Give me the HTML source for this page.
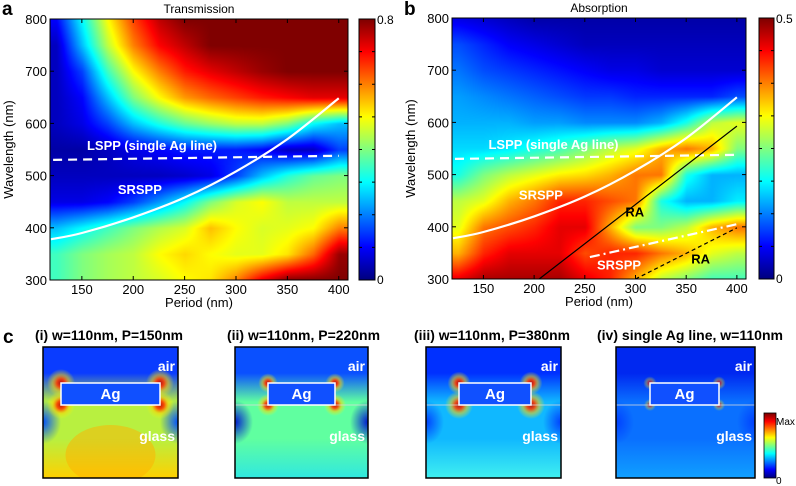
<!DOCTYPE html>
<html><head><meta charset="utf-8"><style>
body{margin:0;background:#fff;width:796px;height:486px;overflow:hidden;position:relative;font-family:"Liberation Sans",Arial,sans-serif}
canvas{position:absolute}
svg{position:absolute;left:0;top:0}
</style></head><body>
<canvas id="hmA" width="298" height="261" style="left:50px;top:19px"></canvas>
<canvas id="hmB" width="294" height="261" style="left:452px;top:18px"></canvas>
<canvas id="cbA" width="16" height="261" style="left:359px;top:19px"></canvas>
<canvas id="cbB" width="15" height="261" style="left:759px;top:18px"></canvas>
<canvas id="cbC" width="12" height="65" style="left:764px;top:413px"></canvas>
<svg id="ov" width="796" height="486"></svg>
<script>
const periods=[125,150,175,200,225,250,275,300,325,350,375,400];
const wavelengths=[800,750,700,650,600,550,500,450,400,350,300];
const transmission=[
[0.1,0.3,0.5,0.65,0.75,0.8,0.8,0.8,0.8,0.8,0.8,0.8],
[0.05,0.25,0.45,0.6,0.7,0.75,0.8,0.8,0.8,0.8,0.8,0.8],
[0.05,0.15,0.35,0.5,0.6,0.68,0.72,0.75,0.78,0.8,0.8,0.8],
[0.05,0.1,0.25,0.4,0.5,0.58,0.62,0.65,0.68,0.7,0.72,0.72],
[0.05,0.08,0.15,0.25,0.32,0.38,0.42,0.45,0.45,0.4,0.3,0.25],
[0.03,0.03,0.05,0.08,0.1,0.12,0.12,0.12,0.1,0.05,0.05,0.15],
[0.05,0.05,0.05,0.05,0.05,0.06,0.08,0.15,0.25,0.33,0.38,0.4],
[0.08,0.08,0.1,0.15,0.22,0.3,0.4,0.47,0.5,0.45,0.45,0.45],
[0.25,0.3,0.35,0.4,0.44,0.47,0.55,0.5,0.47,0.48,0.5,0.6],
[0.35,0.4,0.43,0.45,0.5,0.53,0.5,0.48,0.48,0.52,0.62,0.78],
[0.35,0.4,0.43,0.45,0.47,0.5,0.52,0.6,0.72,0.8,0.8,0.8]];
const absorption=[
[0.05,0.04,0.03,0.02,0.02,0.02,0.02,0.02,0.02,0.02,0.02,0.02],
[0.1,0.08,0.06,0.05,0.04,0.03,0.03,0.03,0.03,0.03,0.03,0.03],
[0.12,0.1,0.09,0.08,0.07,0.06,0.05,0.05,0.04,0.04,0.04,0.04],
[0.14,0.13,0.12,0.11,0.1,0.09,0.09,0.08,0.08,0.08,0.08,0.1],
[0.15,0.15,0.15,0.14,0.14,0.13,0.13,0.13,0.15,0.2,0.28,0.3],
[0.17,0.17,0.18,0.2,0.22,0.25,0.28,0.3,0.35,0.38,0.35,0.25],
[0.2,0.25,0.28,0.3,0.32,0.33,0.35,0.38,0.38,0.2,0.15,0.15],
[0.28,0.3,0.35,0.38,0.42,0.42,0.4,0.38,0.2,0.15,0.15,0.18],
[0.3,0.38,0.4,0.42,0.45,0.45,0.35,0.25,0.25,0.28,0.35,0.38],
[0.35,0.42,0.45,0.45,0.45,0.4,0.42,0.42,0.38,0.35,0.3,0.28],
[0.45,0.48,0.48,0.48,0.48,0.45,0.42,0.35,0.28,0.25,0.22,0.22]];
const xTicks=[150,200,250,300,350,400];
const yTicks=[300,400,500,600,700,800];
const srsppP=[120,150,200,250,300,350,400];
const srsppW=[378,390,420,458,508,570,648];
const lsppP=[122,400];
const lsppW=[530,538];
const raP=[205,400], raW=[300,593];
const ra2P=[300,400], ra2W=[300,398];
const srspp2P=[255,400], srspp2W=[342,405];

function jet(t){t=Math.max(0,Math.min(1,t));const c=v=>Math.round(255*Math.max(0,Math.min(1,v)));
return [c(1.5-Math.abs(4*t-3)),c(1.5-Math.abs(4*t-2)),c(1.5-Math.abs(4*t-1))];}
function makeAxes(x0,x1,y0,y1){return{x:p=>x0+(p-119)/(409-119)*(x1-x0),y:w=>y1-(w-300)/500*(y1-y0)};}
const axA=makeAxes(50,348,19,280), axB=makeAxes(452,746,18,279);
function drawHeat(id,grid,vmax,ax,left,top){
 const cv=document.getElementById(id),ctx=cv.getContext('2d'),W=cv.width,H=cv.height;
 const img=ctx.createImageData(W,H);
 for(let j=0;j<H;j++){const w=800-(j+top-ax.y(800))/(ax.y(300)-ax.y(800))*500;
  let fr=(800-w)/50;fr=Math.max(0,Math.min(wavelengths.length-1.001,fr));const r0=Math.floor(fr),ry=fr-r0;
  for(let i=0;i<W;i++){const p=119+(i+left-ax.x(119))/(ax.x(409)-ax.x(119))*290;
   let fc=(p-125)/25;fc=Math.max(0,Math.min(periods.length-1.001,fc));const c0=Math.floor(fc),cx=fc-c0;
   const v=(grid[r0][c0]*(1-cx)+grid[r0][c0+1]*cx)*(1-ry)+(grid[r0+1][c0]*(1-cx)+grid[r0+1][c0+1]*cx)*ry;
   const col=jet(v/vmax),k=(j*W+i)*4;img.data[k]=col[0];img.data[k+1]=col[1];img.data[k+2]=col[2];img.data[k+3]=255;}}
 ctx.putImageData(img,0,0);}
drawHeat('hmA',transmission,0.8,axA,50,19);
drawHeat('hmB',absorption,0.5,axB,452,18);
function drawCb(id){const cv=document.getElementById(id),ctx=cv.getContext('2d');
 for(let j=0;j<cv.height;j++){const c=jet(1-j/(cv.height-1));ctx.fillStyle=`rgb(${c})`;ctx.fillRect(0,j,cv.width,1);}}
['cbA','cbB','cbC'].forEach(drawCb);

const NS='http://www.w3.org/2000/svg',ov=document.getElementById('ov');
function el(tag,attrs,parent){const e=document.createElementNS(NS,tag);for(const k in attrs)e.setAttribute(k,attrs[k]);(parent||ov).appendChild(e);return e;}
function txt(s,attrs,parent){const e=el('text',attrs,parent);e.textContent=s;return e;}
function pathFrom(P,W,ax){return P.map((p,i)=>(i?'L':'M')+ax.x(p).toFixed(1)+','+ax.y(W[i]).toFixed(1)).join('');}
function smoothPath(P,W,ax){
 const pts=P.map((p,i)=>[ax.x(p),ax.y(W[i])]);let d='M'+pts[0][0].toFixed(1)+','+pts[0][1].toFixed(1);
 for(let i=0;i<pts.length-1;i++){const p0=pts[Math.max(0,i-1)],p1=pts[i],p2=pts[i+1],p3=pts[Math.min(pts.length-1,i+2)];
  const c1=[p1[0]+(p2[0]-p0[0])/6,p1[1]+(p2[1]-p0[1])/6],c2=[p2[0]-(p3[0]-p1[0])/6,p2[1]-(p3[1]-p1[1])/6];
  d+=`C${c1[0].toFixed(1)},${c1[1].toFixed(1)} ${c2[0].toFixed(1)},${c2[1].toFixed(1)} ${p2[0].toFixed(1)},${p2[1].toFixed(1)}`;}
 return d;}

function panel(ax,x0,x1,y0,y1,cbx,cbw,cbMax,title,letter,lx,isB){
 const g=el('g',{});
 
 
 el('rect',{x:x0,y:y0,width:x1-x0,height:y1-y0,fill:'none',stroke:'#000','stroke-width':1},g);
 el('rect',{x:cbx,y:y0,width:cbw,height:y1-y0,fill:'none',stroke:'#000','stroke-width':1},g);
 for(let k=1;k<8;k++){const yy=y0+(y1-y0)*k/8;el('line',{x1:cbx+cbw-3,x2:cbx+cbw,y1:yy,y2:yy,stroke:'#000'},g);el('line',{x1:cbx,x2:cbx+3,y1:yy,y2:yy,stroke:'#000'},g);}
 txt(cbMax,{x:cbx+cbw+2,y:y0+5,'font-size':12,fill:'#000'},g);
 txt('0',{x:cbx+cbw+2,y:y1+4,'font-size':12,fill:'#000'},g);
 xTicks.forEach(t=>{const X=ax.x(t);el('line',{x1:X,x2:X,y1:y1,y2:y1-4,stroke:'#000'},g);el('line',{x1:X,x2:X,y1:y0,y2:y0+4,stroke:'#000'},g);
  const e=txt(String(t),{x:X,y:y1+14,'font-size':13,'text-anchor':'middle'},g);});
 yTicks.forEach(t=>{const Y=ax.y(t);el('line',{x1:x0,x2:x0+4,y1:Y,y2:Y,stroke:'#000'},g);el('line',{x1:x1,x2:x1-4,y1:Y,y2:Y,stroke:'#000'},g);
  const e=txt(String(t),{x:x0-3,y:Y+5,'font-size':13,'text-anchor':'end'},g);});
 const xt=txt('Period (nm)',{x:(x0+x1)/2,y:y1+27,'font-size':13,'text-anchor':'middle'},g);
 const yt=txt('Wavelength (nm)',{x:0,y:0,'font-size':13,'text-anchor':'middle',transform:`translate(${x0-37},${(y0+y1)/2}) rotate(-90)`},g);
 const tt=txt(title,{x:(x0+x1)/2,y:y0-6,'font-size':12,'text-anchor':'middle'},g);
 const lt=txt(letter,{x:lx,y:15,'font-size':19,'font-weight':'bold'},g);
 const s=el('path',{d:smoothPath(srsppP,srsppW,ax),fill:'none',stroke:'#fff','stroke-width':2.2},g);
 
 const l=el('path',{d:pathFrom(lsppP,lsppW,ax),fill:'none',stroke:'#fff','stroke-width':2.2,'stroke-dasharray':'9,6'},g);
 
 txt('LSPP (single Ag line)',{x:ax.x(155),y:ax.y(549),'font-size':13,'font-weight':'bold',fill:'#fff'},g);
 txt('SRSPP',{x:ax.x(185),y:ax.y(isB?452:465),'font-size':13,'font-weight':'bold',fill:'#fff'},g);
 if(isB){
  const r=el('path',{d:pathFrom(raP,raW,ax),stroke:'#000','stroke-width':1.2,fill:'none'},g);
  const r2=el('path',{d:pathFrom(ra2P,ra2W,ax),stroke:'#000','stroke-width':1.2,fill:'none','stroke-dasharray':'4,3'},g);
  const s2=el('path',{d:pathFrom(srspp2P,srspp2W,ax),stroke:'#fff','stroke-width':2.2,fill:'none','stroke-dasharray':'10,4,2,4'},g);
  txt('RA',{x:ax.x(290),y:ax.y(420),'font-size':13,'font-weight':'bold'},g);
  txt('RA',{x:ax.x(355),y:ax.y(330),'font-size':13,'font-weight':'bold'},g);
  txt('SRSPP',{x:ax.x(262),y:ax.y(318),'font-size':13,'font-weight':'bold',fill:'#fff'},g);
 }
}
panel(axA,50,348,19,280,359,16,'0.8','Transmission','a',2,false);
panel(axB,452,746,18,279,759,15,'0.5','Absorption','b',404,true);

// panel c field maps
const defs=el('defs',{});
const cPanels=[
 {x:43,w:135,ag:[61,160],title:'(i) w=110nm, P=150nm',tx:35,tl:148,top:'#0a3cff',mid:'#b8f040',bot:'#ffd000',side:'#0050ff',spot:0.9,line:false},
 {x:235,w:133,ag:[268,335],title:'(ii) w=110nm, P=220nm',tx:227,tl:153,top:'#0a50ff',mid:'#60ffa0',bot:'#30e8e0',side:'#0018d0',spot:0.9,line:true},
 {x:426,w:135,ag:[459,531],title:'(iii) w=110nm, P=380nm',tx:414,tl:156,top:'#0030ff',mid:'#10b8ff',bot:'#40f0f0',side:'#0040ff',spot:0.9,line:true},
 {x:616,w:139,ag:[650,719],title:'(iv) single Ag line, w=110nm',tx:597,tl:186,top:'#0028f0',mid:'#0a70ff',bot:'#10a0ff',side:'#0040ff',spot:0.6,line:true}];
const y0=347,y1=478,agY0=383,agY1=405;
const cl=txt('c',{x:3,y:343,'font-size':19,'font-weight':'bold'});


cPanels.forEach((c,i)=>{
 const g=el('g',{});
 
 
 const lg=el('linearGradient',{id:'lg'+i,x1:0,y1:0,x2:0,y2:1},defs);
 [[0,c.top],[0.2,c.top],[0.42,c.mid],[0.7,c.mid],[1,c.bot]].forEach(s=>el('stop',{offset:s[0],'stop-color':s[1]},lg));
 el('rect',{x:c.x,y:y0,width:c.w,height:y1-y0,fill:`url(#lg${i})`},g);
 const rg=el('radialGradient',{id:'rg'+i},defs);
 el('stop',{offset:0,'stop-color':'#c00000','stop-opacity':c.spot},rg);el('stop',{offset:0.3,'stop-color':'#ff4000','stop-opacity':c.spot},rg);el('stop',{offset:0.6,'stop-color':'#ffd000','stop-opacity':c.spot*0.6},rg);el('stop',{offset:1,'stop-color':'#ffff00','stop-opacity':0},rg);
 const sg=el('radialGradient',{id:'sg'+i},defs);
 el('stop',{offset:0,'stop-color':c.side,'stop-opacity':1},sg);el('stop',{offset:1,'stop-color':c.side,'stop-opacity':0},sg);
 const cpp=el('clipPath',{id:'cp'+i},defs);
 el('rect',{x:c.x,y:y0,width:c.w,height:y1-y0},cpp);
 const gg=el('g',{'clip-path':`url(#cp${i})`},g);
 el('ellipse',{cx:c.x,cy:422,rx:18,ry:22,fill:`url(#sg${i})`},gg);
 el('ellipse',{cx:c.x+c.w,cy:422,rx:18,ry:22,fill:`url(#sg${i})`},gg);
 if(i===0) el('ellipse',{cx:c.x+c.w/2,cy:455,rx:45,ry:30,fill:'#ffb000',opacity:0.5},gg);
 const big=i===2?14:(i===3?6:11);
 [[c.ag[0],agY0,0.6],[c.ag[1],agY0,0.6],[c.ag[0],agY1,1],[c.ag[1],agY1,1]].forEach(p=>{
  const r=i===0?14:big*p[2]+(p[2]<1?3:0);el('circle',{cx:p[0],cy:p[1],r:r,fill:`url(#rg${i})`},gg);});
 if(c.line) el('line',{x1:c.x,x2:c.x+c.w,y1:agY1,y2:agY1,stroke:'#ddd','stroke-width':0.8},g);
 const ag=el('rect',{x:c.ag[0],y:agY0,width:c.ag[1]-c.ag[0],height:agY1-agY0,fill:'#1050ff',stroke:'#fff','stroke-width':1.5},g);
 
 txt('Ag',{x:(c.ag[0]+c.ag[1])/2,y:399,'font-size':15,'font-weight':'bold',fill:'#fff','text-anchor':'middle'},g);
 txt('air',{x:c.x+c.w-3,y:371,'font-size':14,'font-weight':'bold',fill:'#fff','text-anchor':'end'},g);
 txt('glass',{x:c.x+c.w-3,y:441,'font-size':14,'font-weight':'bold',fill:'#fff','text-anchor':'end'},g);
 el('rect',{x:c.x,y:y0,width:c.w,height:y1-y0,fill:'none',stroke:'#000','stroke-width':1.5},g);
 const t=txt(c.title,{x:c.tx,y:340,'font-size':14,'font-weight':'bold',textLength:c.tl,lengthAdjust:'spacingAndGlyphs','font-family':'"Liberation Sans Narrow","Liberation Sans",sans-serif'},g);
 
});
el('rect',{x:764,y:413,width:12,height:65,fill:'none',stroke:'#000','stroke-width':0.8});
txt('Max',{x:776,y:425,'font-size':10,'font-family':'"Liberation Sans Narrow","Liberation Sans",sans-serif'});
txt('0',{x:776,y:484,'font-size':10});
</script>
</body></html>
